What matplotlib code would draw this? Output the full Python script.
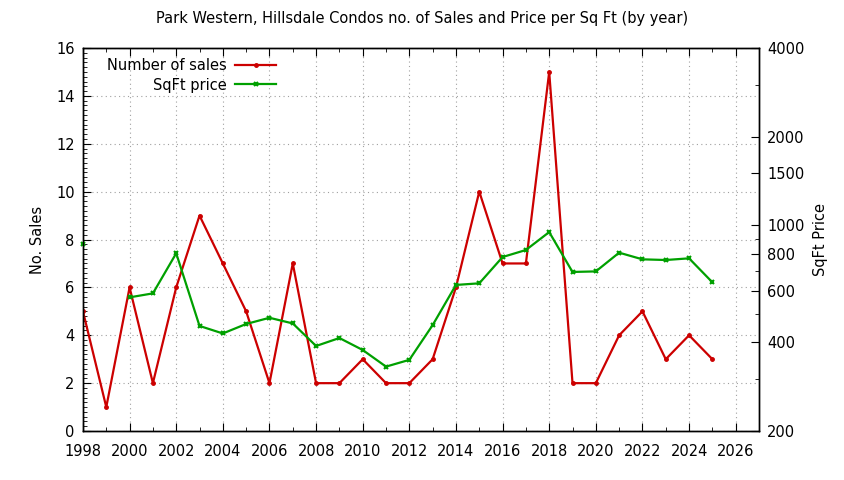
import matplotlib
import matplotlib.pyplot as plt
from matplotlib.ticker import MultipleLocator, FixedLocator, NullFormatter

matplotlib.use('agg')

years = list(range(1998, 2026))
sales = [5, 1, 6, 2, 6, 9, 7, 5, 2, 7, 2, 2, 3, 2, 2, 3, 6, 10, 7, 7, 15, 2, 2, 4, 5, 3, 4, 3]

# no price recorded for 1999, so the line breaks there
price = [863, float('nan'), 569, 587, 803, 455, 429, 462, 485, 464, 389, 414, 377, 331, 349,
         458, 627, 635, 780, 824, 948, 694, 697, 807, 766, 762, 772, 640]

price_ticks = [200, 400, 600, 800, 1000, 1500, 2000, 4000]
price_minor = [300, 500, 700, 900, 3000]

plt.rcParams['font.family'] = 'DejaVu Sans'
plt.rcParams['font.size'] = 10.5

fig = plt.figure(figsize=(8.44, 4.8), dpi=100)
ax = fig.add_axes([0.0983, 0.102, 0.801, 0.798])
ax2 = ax.twinx()

red = '#cc0000'
green = '#00a000'

l1, = ax.plot(years, sales, color=red, lw=1.6, marker='.', ms=5, label='Number of sales')
l2, = ax2.plot(years, price, color=green, lw=1.6, marker='x', ms=3.5, mew=1.5,
               label='SqFt price', clip_on=False)

ax.set_xlim(1998, 2027)
ax.set_ylim(0, 16)
ax.xaxis.set_major_locator(MultipleLocator(2))
ax.xaxis.set_minor_locator(MultipleLocator(1))
ax.yaxis.set_major_locator(MultipleLocator(2))
ax.yaxis.set_minor_locator(MultipleLocator(0.2))
ax.tick_params(which='both', direction='in', top=True, right=False)
ax.tick_params(which='major', length=6)
ax.tick_params(which='minor', length=3)
ax.tick_params(axis='x', which='major', pad=9)
ax.tick_params(axis='y', which='major', pad=6)
ax.grid(True, which='major', color='#a0a0a0', linestyle=(0, (1, 3)), lw=0.8)

ax2.set_yscale('log')
ax2.set_ylim(200, 4000)
ax2.yaxis.set_major_locator(FixedLocator(price_ticks))
ax2.yaxis.set_minor_locator(FixedLocator(price_minor))
ax2.yaxis.set_minor_formatter(NullFormatter())
ax2.set_yticklabels([str(t) for t in price_ticks])
ax2.tick_params(which='both', direction='in')
ax2.tick_params(which='major', length=6, pad=6)
ax2.tick_params(which='minor', length=3)

for a in (ax, ax2):
    for s in a.spines.values():
        s.set_linewidth(1.0)
        s.set_color('black')

ax.set_ylabel('No. Sales', labelpad=8)
ax2.set_ylabel('SqFt Price', labelpad=6)

fig.text(0.5, 0.9625, 'Park Western, Hillsdale Condos no. of Sales and Price per Sq Ft (by year)',
         ha='center', va='center')

ax.legend([l1, l2], ['Number of sales', 'SqFt price'], loc='upper left',
          bbox_to_anchor=(0.02, 1.0), frameon=False, markerfirst=False,
          handlelength=2.8, handletextpad=0.6, labelspacing=0.3, borderaxespad=0.3)

fig.savefig('out.png', dpi=100)
